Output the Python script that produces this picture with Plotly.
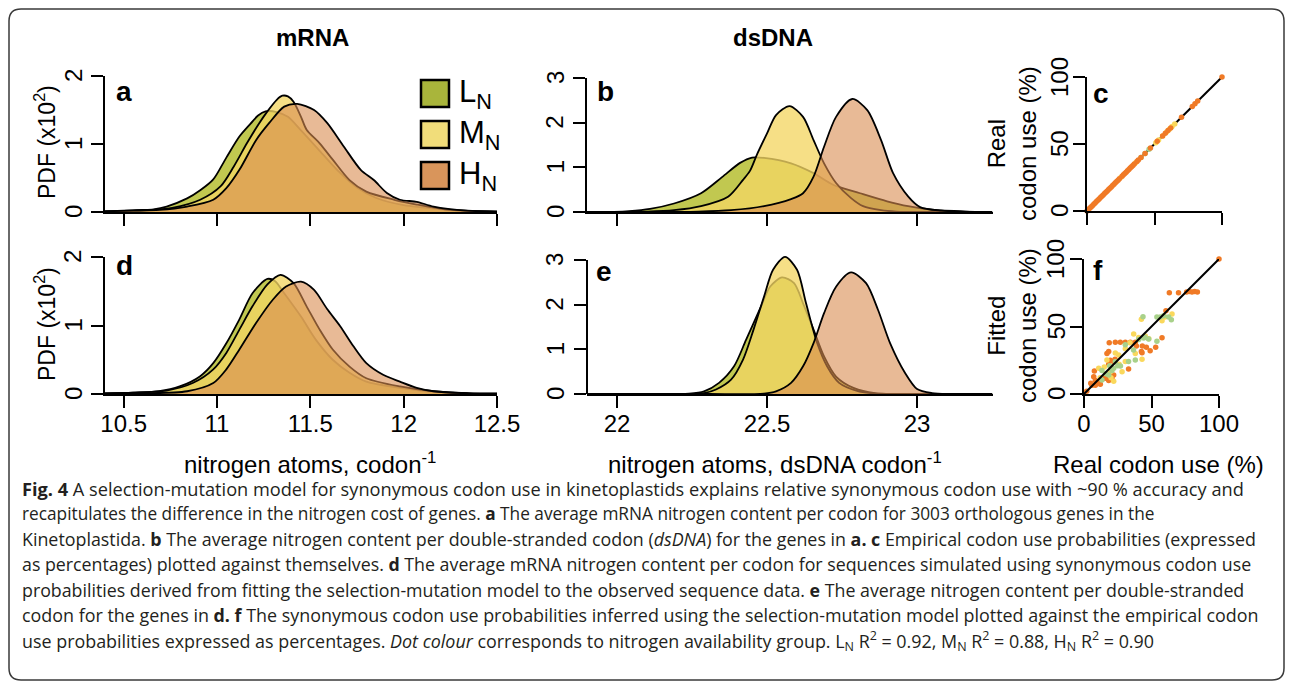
import plotly.graph_objects as go

# ---------------- DATA ----------------
# panel a: mRNA nitrogen per codon, observed
a_L_x = [10.40, 10.50, 10.60, 10.66, 10.73, 10.84, 10.91, 10.98, 11.05, 11.12, 11.18, 11.22, 11.26, 11.32, 11.38, 11.45, 11.55, 11.65, 11.75, 11.85, 12.00, 12.20, 12.35, 12.50]
a_L_y = [0.01, 0.02, 0.03, 0.04, 0.08, 0.20, 0.32, 0.48, 0.80, 1.11, 1.30, 1.42, 1.48, 1.47, 1.40, 1.20, 0.90, 0.60, 0.36, 0.21, 0.10, 0.04, 0.015, 0.005]
a_M_x = [10.40, 10.55, 10.65, 10.76, 10.91, 11.02, 11.09, 11.16, 11.22, 11.27, 11.32, 11.35, 11.38, 11.41, 11.45, 11.48, 11.55, 11.62, 11.71, 11.80, 11.95, 12.07, 12.25, 12.50]
a_M_y = [0.01, 0.02, 0.03, 0.06, 0.18, 0.38, 0.67, 1.01, 1.28, 1.48, 1.65, 1.71, 1.70, 1.62, 1.40, 1.21, 1.01, 0.77, 0.47, 0.30, 0.18, 0.11, 0.03, 0.005]
a_H_x = [10.40, 10.55, 10.69, 10.84, 10.98, 11.05, 11.12, 11.21, 11.28, 11.36, 11.43, 11.52, 11.59, 11.68, 11.77, 11.84, 11.91, 11.98, 12.07, 12.16, 12.34, 12.50]
a_H_y = [0.01, 0.02, 0.03, 0.08, 0.18, 0.35, 0.62, 1.06, 1.31, 1.55, 1.59, 1.50, 1.31, 0.96, 0.62, 0.47, 0.28, 0.18, 0.15, 0.08, 0.02, 0.005]

# panel b: dsDNA nitrogen per codon, observed
b_L_x = [21.90, 21.99, 22.04, 22.11, 22.19, 22.28, 22.35, 22.41, 22.45, 22.49, 22.58, 22.655, 22.72, 22.81, 22.90, 22.97, 23.05, 23.16, 23.25]
b_L_y = [0.0, 0.005, 0.02, 0.07, 0.19, 0.42, 0.78, 1.10, 1.22, 1.21, 1.09, 0.87, 0.61, 0.42, 0.24, 0.13, 0.05, 0.01, 0.0]
b_M_x = [21.90, 22.10, 22.19, 22.28, 22.37, 22.42, 22.443, 22.466, 22.50, 22.53, 22.575, 22.62, 22.655, 22.69, 22.73, 22.78, 22.82, 22.88, 22.93, 23.05, 23.25]
b_M_y = [0.0, 0.01, 0.04, 0.13, 0.34, 0.72, 0.92, 1.28, 1.76, 2.17, 2.37, 2.13, 1.61, 1.09, 0.65, 0.31, 0.13, 0.04, 0.01, 0.0, 0.0]
b_H_x = [21.90, 22.10, 22.27, 22.38, 22.49, 22.58, 22.62, 22.655, 22.69, 22.73, 22.784, 22.834, 22.88, 22.92, 22.97, 23.01, 23.08, 23.16, 23.25]
b_H_y = [0.0, 0.0, 0.01, 0.04, 0.13, 0.29, 0.42, 0.79, 1.46, 2.13, 2.53, 2.28, 1.61, 0.87, 0.35, 0.11, 0.03, 0.01, 0.0]

# panel d: mRNA nitrogen per codon, simulated
d_L_x = [10.40, 10.55, 10.69, 10.80, 10.91, 10.98, 11.05, 11.12, 11.19, 11.27, 11.31, 11.36, 11.45, 11.53, 11.62, 11.71, 11.80, 11.98, 12.16, 12.35, 12.50]
d_L_y = [0.01, 0.02, 0.04, 0.11, 0.26, 0.45, 0.74, 1.09, 1.47, 1.68, 1.65, 1.47, 1.13, 0.79, 0.50, 0.31, 0.18, 0.09, 0.03, 0.01, 0.005]
d_M_x = [10.40, 10.55, 10.73, 10.87, 10.98, 11.05, 11.12, 11.19, 11.27, 11.34, 11.41, 11.48, 11.55, 11.62, 11.71, 11.80, 11.98, 12.16, 12.35, 12.50]
d_M_y = [0.01, 0.02, 0.05, 0.16, 0.36, 0.60, 0.94, 1.28, 1.60, 1.74, 1.62, 1.28, 0.94, 0.65, 0.40, 0.23, 0.11, 0.04, 0.01, 0.005]
d_H_x = [10.40, 10.60, 10.84, 10.98, 11.05, 11.12, 11.21, 11.30, 11.37, 11.45, 11.52, 11.59, 11.66, 11.73, 11.80, 11.89, 11.98, 12.07, 12.16, 12.34, 12.50]
d_H_y = [0.005, 0.01, 0.04, 0.16, 0.36, 0.65, 1.04, 1.38, 1.57, 1.64, 1.52, 1.24, 0.99, 0.70, 0.45, 0.28, 0.18, 0.09, 0.04, 0.01, 0.005]

# panel e: dsDNA nitrogen per codon, simulated
e_L_x = [21.90, 22.10, 22.24, 22.29, 22.34, 22.39, 22.43, 22.48, 22.51, 22.55, 22.59, 22.62, 22.655, 22.69, 22.73, 22.79, 22.86, 23.00, 23.25]
e_L_y = [0.0, 0.0, 0.01, 0.06, 0.25, 0.62, 1.21, 1.96, 2.40, 2.61, 2.48, 2.03, 1.44, 0.84, 0.39, 0.13, 0.02, 0.0, 0.0]
e_M_x = [21.90, 22.15, 22.29, 22.33, 22.38, 22.42, 22.455, 22.49, 22.52, 22.56, 22.60, 22.63, 22.667, 22.70, 22.74, 22.80, 22.86, 23.00, 23.25]
e_M_y = [0.0, 0.0, 0.02, 0.10, 0.32, 0.77, 1.44, 2.18, 2.78, 3.07, 2.78, 2.03, 1.14, 0.62, 0.25, 0.07, 0.01, 0.0, 0.0]
e_H_x = [21.90, 22.30, 22.49, 22.53, 22.58, 22.62, 22.655, 22.69, 22.73, 22.78, 22.83, 22.87, 22.91, 22.96, 23.00, 23.05, 23.11, 23.25]
e_H_y = [0.0, 0.0, 0.01, 0.06, 0.25, 0.62, 1.14, 1.81, 2.40, 2.72, 2.48, 1.88, 1.14, 0.47, 0.11, 0.02, 0.0, 0.0]

# panel c: real codon use plotted against itself (%)
c_L = [40, 43, 46]
c_M = [25, 36, 51, 53, 56, 59, 61, 63, 65]
c_H = [0, 1, 2, 3, 4, 5, 6, 7, 8, 9, 10, 11, 12, 13, 14, 15, 16, 17, 18, 19, 20, 21, 22, 23, 24,
       26, 27, 28, 29, 30, 31, 32, 33, 34, 35, 37, 38, 40, 43, 47, 52, 56, 58, 60, 62, 70, 78, 80, 82, 100]

# panel f: fitted vs real codon use (%)
f_L_x = [13.3, 18.3, 20.7, 23.2, 27.0, 13.3, 22.0, 25.0, 30.6, 36.7, 38.0, 40.5, 44.2, 47.9, 54.0, 43.7, 54.0, 56.5, 59.0, 62.7, 64.7, 16.0, 19.0, 33.0, 45.0]
f_L_y = [10.4, 14.0, 17.4, 23.9, 20.7, 17.4, 19.0, 21.0, 36.5, 32.6, 25.2, 40.3, 41.5, 40.8, 39.0, 57.3, 57.0, 57.0, 58.0, 57.0, 55.0, 15.0, 21.0, 24.0, 42.0]
f_M_x = [10.9, 19.5, 22.0, 28.2, 17.0, 30.6, 43.0, 23.2, 25.7, 30.6, 36.8, 40.5, 45.4, 42.5, 57.8, 65.2, 12.0, 15.0, 26.0, 34.0, 48.0, 60.0, 20.0, 38.0]
f_M_y = [19.0, 16.5, 9.4, 16.5, 25.2, 24.0, 25.7, 30.3, 28.9, 33.6, 44.4, 41.8, 43.0, 55.3, 54.3, 59.3, 12.0, 20.0, 22.0, 38.0, 41.0, 57.0, 12.0, 30.0]
f_H_x = [2.0, 5.9, 8.4, 10.9, 13.3, 15.8, 18.3, 20.7, 8.4, 12.1, 7.2, 22.0, 5.0, 16.0, 7.7, 19.5, 22.0, 18.3, 23.0, 17.0, 18.3, 18.7,
         23.2, 26.9, 30.6, 34.3, 38.0, 33.0, 43.0, 49.0, 38.8, 43.2, 46.2, 53.1, 57.8, 42.5, 60.7, 63.2, 70.0, 76.0, 78.0, 80.0, 82.0, 84.0, 100.0]
f_H_y = [2.0, 6.4, 10.0, 9.1, 10.8, 11.6, 10.0, 11.6, 6.4, 7.2, 12.8, 14.0, 8.0, 13.0, 17.0, 25.0, 24.0, 22.0, 25.7, 30.0, 31.4, 38.0,
         38.3, 38.3, 38.3, 38.3, 38.3, 18.5, 30.6, 32.0, 35.6, 35.6, 34.6, 34.6, 41.7, 31.4, 61.7, 75.0, 75.0, 75.5, 76.0, 75.5, 76.0, 75.5, 100.0]
diag = [0, 100]

x_mrna = [10.5, 11, 11.5, 12, 12.5]
x_dna = [22, 22.5, 23]
x_pct = [0, 50, 100]
y_mrna = [0, 1, 2]
y_dna = [0, 1, 2, 3]

legend_labels = ["L<sub>N</sub>", "M<sub>N</sub>", "H<sub>N</sub>"]

caption_lines = [
    "<b>Fig. 4</b> A selection-mutation model for synonymous codon use in kinetoplastids explains relative synonymous codon use with ~90 % accuracy and",
    "recapitulates the difference in the nitrogen cost of genes. <b>a</b> The average mRNA nitrogen content per codon for 3003 orthologous genes in the",
    "Kinetoplastida. <b>b</b> The average nitrogen content per double-stranded codon (<i>dsDNA</i>) for the genes in <b>a. c</b> Empirical codon use probabilities (expressed",
    "as percentages) plotted against themselves. <b>d</b> The average mRNA nitrogen content per codon for sequences simulated using synonymous codon use",
    "probabilities derived from fitting the selection-mutation model to the observed sequence data. <b>e</b> The average nitrogen content per double-stranded",
    "codon for the genes in <b>d. f</b> The synonymous codon use probabilities inferred using the selection-mutation model plotted against the empirical codon",
    "use probabilities expressed as percentages. <i>Dot colour</i> corresponds to nitrogen availability group. L<sub>N</sub> R<sup>2</sup> = 0.92, M<sub>N</sub> R<sup>2</sup> = 0.88, H<sub>N</sub> R<sup>2</sup> = 0.90",
]

# ---------------- STYLE ----------------
OFF = 8                      # page body margin of the browser
W, H = 1293 - OFF, 685 - OFF
FONT = "Liberation Sans, Arial, Helvetica, sans-serif"
CAPFONT = "Open Sans, sans-serif"
CAP_SIZES = [18.2, 17.25, 17.85, 17.8, 17.8, 17.9, 17.9]
LEG_COL = ["#a9b53b", "#f1dd7a", "#d9955b"]
FILL_COL = ["rgba(172,182,22,0.75)", "rgba(243,214,100,0.78)", "rgba(216,140,80,0.6)"]
DOT_COL = ["#a8d18a", "#fad85c", "#f07a26"]


def px(x):
    return (x - OFF) / W


def py(y):
    return 1 - (y - OFF) / H


fig = go.Figure()

density_panels = [
    ("x", "y", [(a_L_x, a_L_y), (a_M_x, a_M_y), (a_H_x, a_H_y)]),
    ("x2", "y2", [(b_L_x, b_L_y), (b_M_x, b_M_y), (b_H_x, b_H_y)]),
    ("x4", "y4", [(d_L_x, d_L_y), (d_M_x, d_M_y), (d_H_x, d_H_y)]),
    ("x5", "y5", [(e_L_x, e_L_y), (e_M_x, e_M_y), (e_H_x, e_H_y)]),
]
for xa, ya, series in density_panels:
    for i, (xs, ys) in enumerate(series):
        fig.add_trace(go.Scatter(
            x=xs, y=ys, xaxis=xa, yaxis=ya, mode="lines",
            line=dict(color="black", width=1.8, shape="spline", smoothing=0.8),
            fill="tozeroy", fillcolor=FILL_COL[i], showlegend=False, hoverinfo="skip"))

# panel c
fig.add_trace(go.Scatter(x=diag, y=diag, xaxis="x3", yaxis="y3", mode="lines",
                         line=dict(color="black", width=2), showlegend=False, hoverinfo="skip"))
for vals, col in [(c_L, DOT_COL[0]), (c_M, DOT_COL[1]), (c_H, DOT_COL[2])]:
    fig.add_trace(go.Scatter(x=vals, y=vals, xaxis="x3", yaxis="y3", mode="markers",
                             marker=dict(color=col, size=5.5, line=dict(width=0)),
                             cliponaxis=False, showlegend=False))

# panel f
for xs, ys, col in [(f_H_x, f_H_y, DOT_COL[2]), (f_M_x, f_M_y, DOT_COL[1]), (f_L_x, f_L_y, DOT_COL[0])]:
    fig.add_trace(go.Scatter(x=xs, y=ys, xaxis="x6", yaxis="y6", mode="markers",
                             marker=dict(color=col, size=5.5, line=dict(width=0)),
                             cliponaxis=False, showlegend=False))
fig.add_trace(go.Scatter(x=diag, y=diag, xaxis="x6", yaxis="y6", mode="lines",
                         line=dict(color="black", width=2), showlegend=False, hoverinfo="skip"))

axis_common = dict(showline=True, linecolor="black", linewidth=2, ticks="outside", ticklen=12,
                   tickwidth=2, tickcolor="black", showgrid=False, zeroline=False,
                   tickfont=dict(family=FONT, size=24, color="black"))


def xaxis(dom, rng, tv, labels, anchor):
    d = dict(axis_common)
    d.update(domain=[px(dom[0]), px(dom[1])], range=rng, tickvals=tv, showticklabels=labels,
             anchor=anchor, ticktext=[str(t) for t in tv], tickmode="array", ticklabelstandoff=-5)
    return d


def yaxis(dom, rng, tv, anchor, showline=True):
    d = dict(axis_common)
    d.update(domain=[py(dom[1]), py(dom[0])], range=rng, tickvals=tv,
             anchor=anchor, tickmode="array", showticklabels=False, showline=showline)
    return d


fig.update_layout(
    xaxis=xaxis((105, 497), [10.4, 12.5], x_mrna, False, "y"),
    yaxis=yaxis((76, 212), [0, 2], y_mrna, "x"),
    xaxis2=xaxis((587, 993), [21.9, 23.253], x_dna, False, "y2"),
    yaxis2=yaxis((78, 212), [0, 3], y_dna, "x2"),
    xaxis3=xaxis((1087, 1222), [0, 100], x_pct, False, "y3"),
    yaxis3=yaxis((77, 211), [0, 100], x_pct, "x3"),
    xaxis4=xaxis((105, 497), [10.4, 12.5], x_mrna, True, "y4"),
    yaxis4=yaxis((257, 394), [0, 2], y_mrna, "x4"),
    xaxis5=xaxis((587, 993), [21.9, 23.253], x_dna, True, "y5"),
    yaxis5=yaxis((254.6, 394), [0, 3.12], y_dna, "x5", showline=False),
    xaxis6=xaxis((1084, 1219), [0, 100], x_pct, True, "y6"),
    yaxis6=yaxis((259, 394), [0, 100], x_pct, "x6"),
)

shapes = []
# y axis line of panel e drawn only up to the last tick
shapes.append(dict(type="line", xref="x5 domain", yref="y5", x0=0, x1=0, y0=0, y1=3,
                   line=dict(color="black", width=2)))

# rounded frame
x0, y0, x1, y1, r = 9, 9, 1284, 680, 12
path = (f"M {px(x0 + r)},{py(y0)} L {px(x1 - r)},{py(y0)} Q {px(x1)},{py(y0)} {px(x1)},{py(y0 + r)} "
        f"L {px(x1)},{py(y1 - r)} Q {px(x1)},{py(y1)} {px(x1 - r)},{py(y1)} "
        f"L {px(x0 + r)},{py(y1)} Q {px(x0)},{py(y1)} {px(x0)},{py(y1 - r)} "
        f"L {px(x0)},{py(y0 + r)} Q {px(x0)},{py(y0)} {px(x0 + r)},{py(y0)} Z")
shapes.append(dict(type="path", xref="paper", yref="paper", path=path,
                   line=dict(color="#3a3a3a", width=1.5)))

annotations = []


def ann(text, x, y, size=24, bold=False, angle=0, xanchor="center", yanchor="middle", family=FONT,
        color="black", yref="paper"):
    if bold:
        text = f"<b>{text}</b>"
    annotations.append(dict(text=text, x=px(x), y=(py(y) if yref == "paper" else y), xref="paper", yref=yref,
                            showarrow=False, xanchor=xanchor, yanchor=yanchor, textangle=angle,
                            font=dict(family=family, size=size, color=color)))


# legend boxes
leg_boxes = [(80, 107), (121, 148), (162, 189)]
for i, (t, b) in enumerate(leg_boxes):
    shapes.append(dict(type="rect", xref="paper", yref="paper", x0=px(421), x1=px(449), y0=py(b), y1=py(t),
                       fillcolor=LEG_COL[i], line=dict(color="black", width=2.5)))
    ann(legend_labels[i], 457, (t + b) / 2 + 1, size=31, xanchor="left")

# rotated y tick labels (R style)
for yref, axis_x, vals in [("y", 105, y_mrna), ("y2", 587, y_dna), ("y3", 1087, x_pct),
                           ("y4", 105, y_mrna), ("y5", 587, y_dna), ("y6", 1084, x_pct)]:
    gap = 28 if yref in ("y3", "y6") else 32
    for v in vals:
        ann(str(v), axis_x - gap, v, angle=-90, yref=yref)

ann("mRNA", 312, 37, bold=True)
ann("dsDNA", 773, 37, bold=True)
ann("PDF (x10<sup>2</sup>)", 45, 142, angle=-90, size=23)
ann("PDF (x10<sup>2</sup>)", 45, 324, angle=-90, size=23)
ann("Real<br>codon use (%)", 1012, 144, angle=-90)
ann("Fitted<br>codon use (%)", 1012, 326, angle=-90)
ann("nitrogen atoms, codon<sup>-1</sup>", 310, 463)
ann("nitrogen atoms, dsDNA codon<sup>-1</sup>", 775, 463)
ann("Real codon use (%)", 1158, 464)
for lab, x, y in [("a", 124, 91), ("b", 605, 91), ("c", 1101, 93), ("d", 124, 265), ("e", 604, 271), ("f", 1098, 270)]:
    ann(lab, x, y, size=28, bold=True)

cap_y = [489, 513, 539, 564, 590, 615, 641]
for line, y, s in zip(caption_lines, cap_y, CAP_SIZES):
    ann(line, 20, y, size=s, xanchor="left", family=CAPFONT, color="#231f20")

fig.update_layout(shapes=shapes, annotations=annotations, width=W, height=H,
                  margin=dict(l=0, r=0, t=0, b=0, pad=0, autoexpand=False),
                  paper_bgcolor="white", plot_bgcolor="white", showlegend=False)

fig.write_html("out.html")
